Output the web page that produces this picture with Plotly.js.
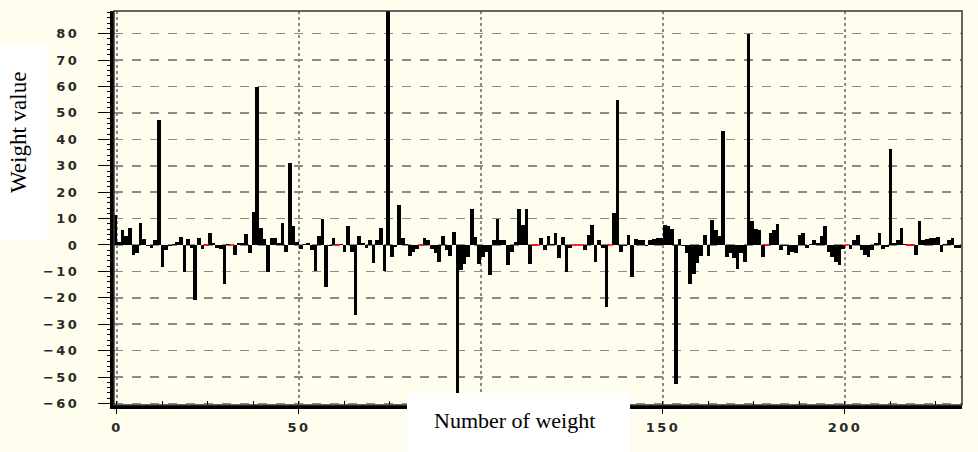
<!DOCTYPE html>
<html>
<head>
<meta charset="utf-8">
<script src="https://cdn.plot.ly/plotly-3.0.1.min.js"></script>
<style>
html,body{margin:0;padding:0;background:#fff;}
#chart{width:978px;height:452px;}
.xtick text,.ytick text{letter-spacing:2.5px;}
</style>
</head>
<body>
<div id="chart"></div>
<script>
// Weight values, one per weight number
const weightValues = [
  11.5, 1.3, 5.8, 3.5, 6.4, -3.8, -3.2, 8.3, 2.2, -0.5,
  -1, 1.7, 47.2, -8.3, -2, -0.5, 0.3, 1, 3, -10.3,
  2.2, -1, -21, 2.8, -1.7, 0, 4.7, 0.9, -1.3, -1.7,
  -14.7, 0.3, 0, -3.8, 0.6, 0.8, 4.1, -3.2, 12.4, 60,
  6.4, 2.2, -10.3, 2.8, 2.8, 0.6, 8.3, -2.6, 31.2, 7,
  1.3, -1.7, 0.4, 0.9, -2, -9.9, 3.5, 9.9, -16, -0.5,
  2.8, 0, 0.3, -2.6, 7, -2.6, -26.5, 3.5, 0.9, -1.3,
  1.9, -6.8, 1.9, 6.4, -9.9, 92, -4.5, -0.9, 15.1, 2.6,
  0.4, -4.2, -2.6, -1.5, 0, 2.8, 1.9, -1.7, -3, -6.4,
  3.5, -2, -4.2, 5.1, -58, -9.6, -7.3, -4.5, 13.7, 3.2,
  -7.3, -4.5, -2.6, -11.5, 1.9, 9.9, 1.9, 1.9, -7.7, -2.6,
  1.3, 13.7, 7.7, 13.5, -7.3, 0, 0, 2.8, -1.9, 3.5,
  0.3, 4.7, -5.1, 3.2, -10.3, -1, 0, 0, 0, -1.9,
  3.8, 7.7, -6.4, 1.9, -1.3, -23.5, 0, 12.2, 55, -2.6,
  -0.5, 3.8, -12.2, 2.2, 1.9, 1.7, -0.5, 1.9, 2.2, 2.6,
  2.8, 7.7, 7, 6, -52.5, 2.2, -0.5, -3, -14.7, -11,
  -7, -4, 3.8, -4.2, 9.6, 5.5, 3.5, 43.3, -4.7, -3.2,
  -5.1, -9, -3.2, -6.4, 79.9, 9, 6, 5.8, -4.5, 0,
  4.5, 5.8, 8.1, -1.9, -0.5, -3.8, -2.6, -3, 3.8, 4.5,
  -1.3, 0.3, 1.9, 0.6, 3.5, 7, -2.6, -4.5, -6.4, -7.7,
  -1.5, 0, -1.7, 1.9, 3.8, -1.9, -3.8, -4.5, -1.9, 0.9,
  4.5, -1.5, -0.8, 36.5, 0.9, 1.9, 6.4, 0.3, 0, 0,
  -3.8, 9, 1.9, 2.3, 2.6, 2.6, 3.2, -2.6, 0.3, 1.9,
  2.8, -1.3, -1.3
];
const xTickValues = [0, 50, 100, 150, 200];
// the "100" label is hidden behind the axis-title box in the reference
const xTickLabels = ["0", "50", "", "150", "200"];
const yTickValues = [-60, -50, -40, -30, -20, -10, 0, 10, 20, 30, 40, 50, 60, 70, 80];
const xTitle = "Number of weight";
const yTitle = "Weight value";

const weightNumbers = weightValues.map((v, i) => i);
const zeroNumbers = weightNumbers.filter(i => weightValues[i] === 0);

const bg = "#FFFEEE";
const plotL = 114, plotR = 16, plotT = 11, plotB = 47;
const W = 978, H = 452;
const pw = W - plotL - plotR, ph = H - plotT - plotB;
const px = p => (p - plotL) / pw;
const py = p => (H - plotB - p) / ph;

const tickFont = {family: "DejaVu Sans, sans-serif", size: 13, color: "#2a2a2a", weight: 700};

const traces = [
  {
    type: "bar",
    x: weightNumbers,
    y: weightValues,
    width: 1,
    offset: -1,
    marker: {color: "#000", line: {width: 0}},
    hoverinfo: "x+y",
    showlegend: false
  },
  {
    type: "scatter",
    mode: "markers",
    x: zeroNumbers.map(i => i - 0.5),
    y: zeroNumbers.map(i => weightValues[i]),
    marker: {symbol: "line-ew", size: 4, line: {color: "#ff0000", width: 1.5}},
    hoverinfo: "skip",
    showlegend: false
  }
];

const layout = {
  width: W, height: H,
  margin: {l: plotL, r: plotR, t: plotT, b: plotB, pad: 0},
  paper_bgcolor: bg,
  plot_bgcolor: bg,
  bargap: 0,
  showlegend: false,
  font: {family: "DejaVu Sans, sans-serif", size: 13, color: "#222"},
  xaxis: {
    range: [-0.82, 232.15],
    tickvals: xTickValues,
    ticktext: xTickLabels,
    showgrid: true, gridcolor: "#8a8a8a", griddash: "dot", gridwidth: 1.5,
    zeroline: false,
    showline: true, linecolor: "#000", linewidth: 4,
    ticks: "outside", ticklen: 5, tickcolor: "#000", tickwidth: 1,
    ticklabelstandoff: 2,
    minor: {dtick: 12.5, tick0: 0, ticks: "inside", ticklen: 4, tickcolor: "#000", showgrid: false},
    tickfont: tickFont,
    fixedrange: true
  },
  yaxis: {
    range: [-60.6, 88.6],
    tickvals: yTickValues,
    showgrid: true, gridcolor: "#8a8a8a", griddash: "dash", gridwidth: 1.5,
    zeroline: false,
    showline: true, linecolor: "#000", linewidth: 4,
    ticks: "outside", ticklen: 12, tickcolor: "#000", tickwidth: 1,
    ticklabelstandoff: 16,
    minor: {dtick: 2, tick0: 0, ticks: "outside", ticklen: 3, tickcolor: "#000", showgrid: false},
    tickfont: tickFont,
    fixedrange: true
  },
  shapes: [
    {type: "rect", xref: "x domain", yref: "y domain", x0: 0, x1: 1, y0: 0, y1: 1,
     line: {color: "#333", width: 1.5}, fillcolor: "rgba(0,0,0,0)", layer: "above"},
    {type: "rect", xref: "paper", yref: "paper", x0: px(407), x1: px(630), y0: py(393), y1: py(452),
     line: {width: 0}, fillcolor: "#ffffff", layer: "above"},
    {type: "rect", xref: "paper", yref: "paper", x0: px(0), x1: px(47), y0: py(45), y1: py(240),
     line: {width: 0}, fillcolor: "#ffffff", layer: "above"}
  ],
  annotations: [
    {text: xTitle, xref: "paper", yref: "paper", x: px(514.5), y: py(421),
     xanchor: "center", yanchor: "middle", showarrow: false,
     font: {family: "Liberation Serif, Times New Roman, serif", size: 22, color: "#000"}},
    {text: yTitle, xref: "paper", yref: "paper", x: px(18), y: py(133),
     xanchor: "center", yanchor: "middle", showarrow: false, textangle: -90,
     font: {family: "Liberation Serif, Times New Roman, serif", size: 23, color: "#000"}}
  ]
};

Plotly.newPlot("chart", traces, layout, {displayModeBar: false, staticPlot: true});
</script>
</body>
</html>
